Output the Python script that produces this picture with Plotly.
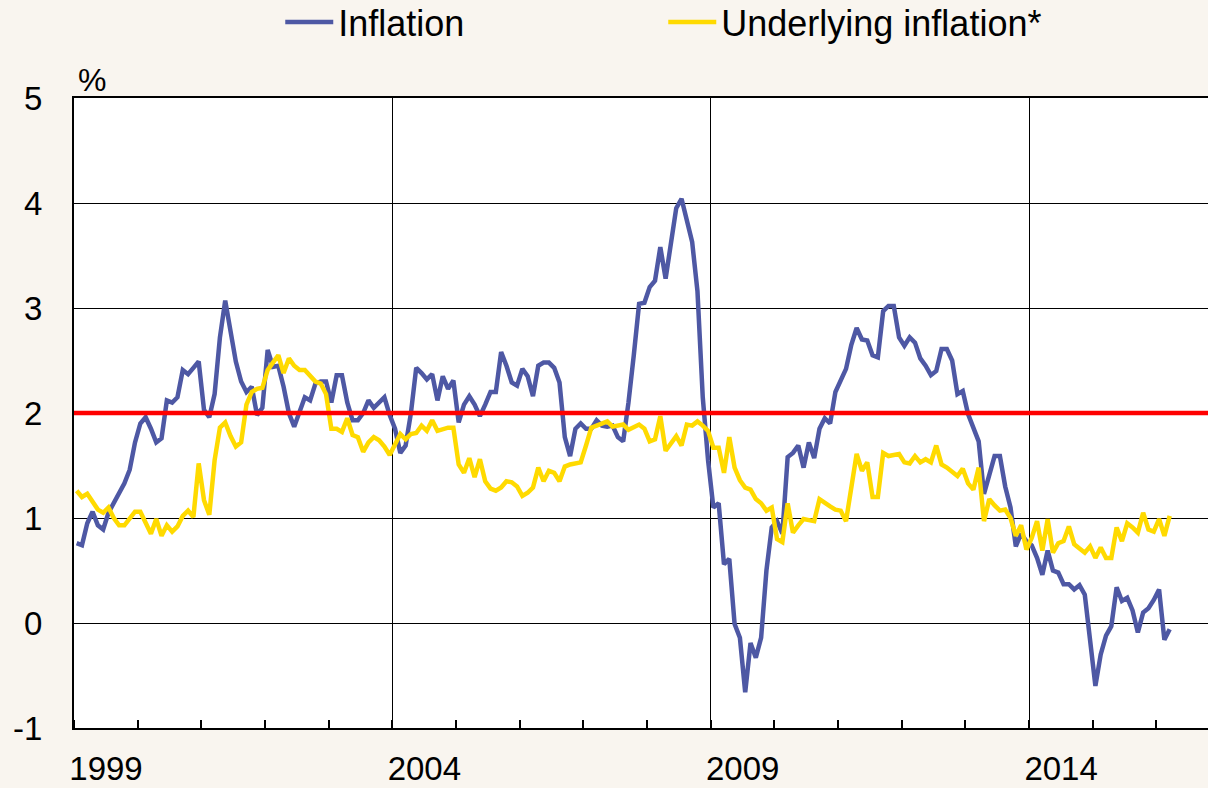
import numpy as np
import plotly.graph_objects as go

# monthly annual rates, Jan 1999 - Mar 2016 (%)
start_year = 1999
inflation = [
    0.76, 0.74, 0.95, 1.06, 0.93, 0.89, 1.05, 1.15, 1.25, 1.33, 1.46, 1.72,   # 1999
    1.90, 1.96, 1.85, 1.72, 1.76, 2.12, 2.10, 2.15, 2.41, 2.37, 2.43, 2.49,   # 2000
    2.03, 1.96, 2.18, 2.72, 3.07, 2.80, 2.49, 2.30, 2.20, 2.25, 1.98, 2.05,   # 2001
    2.60, 2.44, 2.45, 2.25, 2.00, 1.87, 2.00, 2.15, 2.12, 2.28, 2.30, 2.30,   # 2002
    2.10, 2.36, 2.36, 2.10, 1.93, 1.93, 2.00, 2.12, 2.05, 2.10, 2.15, 1.98,   # 2003
    1.85, 1.62, 1.69, 2.00, 2.43, 2.38, 2.32, 2.37, 2.12, 2.35, 2.23, 2.31,   # 2004
    1.91, 2.08, 2.16, 2.08, 1.97, 2.08, 2.20, 2.20, 2.58, 2.45, 2.29, 2.26,   # 2005
    2.42, 2.35, 2.16, 2.45, 2.48, 2.48, 2.43, 2.29, 1.77, 1.59, 1.85, 1.90,   # 2006
    1.85, 1.85, 1.93, 1.88, 1.87, 1.88, 1.77, 1.73, 2.10, 2.55, 3.04, 3.05,   # 2007
    3.20, 3.26, 3.58, 3.28, 3.64, 3.95, 4.04, 3.85, 3.63, 3.16, 2.15, 1.55,   # 2008
    1.10, 1.14, 0.56, 0.61, -0.01, -0.14, -0.66, -0.19, -0.33, -0.14, 0.50, 0.91,  # 2009
    0.97, 0.85, 1.58, 1.62, 1.69, 1.48, 1.72, 1.57, 1.85, 1.95, 1.90, 2.20,   # 2010
    2.30, 2.42, 2.65, 2.81, 2.70, 2.69, 2.55, 2.53, 2.97, 3.02, 3.02, 2.72,   # 2011
    2.64, 2.72, 2.67, 2.52, 2.45, 2.36, 2.40, 2.61, 2.61, 2.50, 2.18, 2.21,   # 2012
    1.99, 1.85, 1.73, 1.23, 1.40, 1.59, 1.59, 1.30, 1.10, 0.73, 0.85, 0.78,   # 2013
    0.74, 0.62, 0.46, 0.69, 0.50, 0.48, 0.37, 0.37, 0.32, 0.36, 0.27, -0.15,  # 2014
    -0.60, -0.30, -0.12, -0.03, 0.34, 0.21, 0.24, 0.12, -0.09, 0.10, 0.14, 0.22,  # 2015
    0.32, -0.16, -0.06,                                                       # 2016
]
underlying = [
    1.26, 1.20, 1.23, 1.15, 1.08, 1.05, 1.10, 1.00, 0.93, 0.93, 1.00, 1.06,   # 1999
    1.06, 0.95, 0.85, 0.99, 0.83, 0.93, 0.87, 0.92, 1.02, 1.07, 1.01, 1.52,   # 2000
    1.17, 1.03, 1.55, 1.86, 1.91, 1.78, 1.68, 1.72, 2.08, 2.20, 2.23, 2.24,   # 2001
    2.41, 2.48, 2.55, 2.38, 2.52, 2.45, 2.41, 2.41, 2.35, 2.30, 2.28, 2.18,   # 2002
    1.85, 1.85, 1.82, 1.95, 1.79, 1.77, 1.63, 1.72, 1.77, 1.74, 1.68, 1.60,   # 2003
    1.70, 1.80, 1.75, 1.80, 1.81, 1.88, 1.83, 1.93, 1.83, 1.85, 1.86, 1.86,   # 2004
    1.51, 1.43, 1.57, 1.39, 1.56, 1.35, 1.28, 1.26, 1.29, 1.35, 1.34, 1.30,   # 2005
    1.21, 1.24, 1.29, 1.48, 1.35, 1.45, 1.43, 1.35, 1.49, 1.51, 1.52, 1.53,   # 2006
    1.69, 1.86, 1.88, 1.90, 1.92, 1.87, 1.88, 1.89, 1.84, 1.87, 1.89, 1.85,   # 2007
    1.73, 1.75, 1.97, 1.64, 1.72, 1.78, 1.69, 1.89, 1.88, 1.92, 1.88, 1.83,   # 2008
    1.67, 1.67, 1.43, 1.77, 1.48, 1.36, 1.29, 1.27, 1.18, 1.14, 1.07, 1.10,   # 2009
    0.80, 0.77, 1.14, 0.86, 0.93, 0.99, 0.98, 0.97, 1.18, 1.14, 1.11, 1.08,   # 2010
    1.07, 0.97, 1.30, 1.61, 1.45, 1.53, 1.20, 1.20, 1.62, 1.59, 1.60, 1.61,   # 2011
    1.53, 1.52, 1.59, 1.53, 1.56, 1.53, 1.69, 1.51, 1.48, 1.44, 1.40, 1.47,   # 2012
    1.33, 1.27, 1.48, 0.97, 1.18, 1.12, 1.07, 1.08, 1.00, 0.83, 0.93, 0.70,   # 2013
    0.81, 0.97, 0.69, 0.99, 0.67, 0.76, 0.78, 0.92, 0.75, 0.71, 0.67, 0.73,   # 2014
    0.62, 0.72, 0.62, 0.62, 0.91, 0.78, 0.95, 0.91, 0.86, 1.05, 0.89, 0.87,   # 2015
    0.99, 0.83, 1.02,                                                         # 2016
]
target = 2.0
year_labels = ["1999", "2004", "2009", "2014"]
y_ticks = [-1, 0, 1, 2, 3, 4, 5]
y_labels = ["-1", "0", "1", "2", "3", "4", "5"]

# mid-month position in decimal years
months = np.arange(len(inflation))
x = start_year + (months + 0.5) / 12

bg = "#F9F5EF"
font = "Liberation Sans, Arial, sans-serif"

fig = go.Figure()
fig.add_trace(go.Scatter(x=x, y=inflation, mode="lines", name="Inflation",
                         line=dict(color="#4E58A4", width=4.5)))
fig.add_trace(go.Scatter(x=x, y=underlying, mode="lines", name="Underlying inflation*",
                         line=dict(color="#FFDA00", width=4.5)))
fig.add_hline(y=target, line=dict(color="#FF0000", width=4.5), layer="above")

fig.update_layout(
    width=1208, height=788,
    margin=dict(l=74, r=0, t=98, b=60, autoexpand=False),
    paper_bgcolor=bg, plot_bgcolor="white",
    font=dict(family=font, color="black", size=33),
    showlegend=True,
    legend=dict(orientation="h", xref="container", yref="container",
                x=0.232, y=0.972, xanchor="left", yanchor="middle",
                font=dict(size=36), entrywidth=320, itemwidth=48,
                bgcolor="rgba(0,0,0,0)"),
    annotations=[dict(text="%", xref="paper", yref="paper", x=0, y=1.0,
                      xanchor="left", yanchor="bottom", xshift=2, yshift=-2,
                      showarrow=False, font=dict(size=32))],
)
fig.update_xaxes(
    range=[1999, 2016.81], automargin=False,
    tickmode="array", tickvals=[int(v) for v in year_labels], ticktext=year_labels,
    ticklabelshift=32, ticklabelstandoff=10, ticks="",
    showgrid=True, gridcolor="black", gridwidth=1.3,
    showline=True, linecolor="black", linewidth=2, mirror=True,
    minor=dict(tick0=1999, dtick=1, ticks="inside", ticklen=8, tickwidth=1.5,
               tickcolor="black", showgrid=False),
    zeroline=False,
)
fig.update_yaxes(
    range=[-1, 5], automargin=False,
    tickmode="array", tickvals=y_ticks, ticktext=y_labels,
    showgrid=True, gridcolor="black", gridwidth=1.3,
    showline=True, linecolor="black", linewidth=2,
    ticks="outside", ticklen=23, tickcolor="rgba(0,0,0,0)",
    zeroline=False,
)

page_fix = (
    "document.body.style.margin='0px';"
    "document.body.style.overflow='hidden';"
    "document.documentElement.style.overflow='hidden';"
)
fig.write_html("out.html", config={"displayModeBar": False}, post_script=page_fix)
